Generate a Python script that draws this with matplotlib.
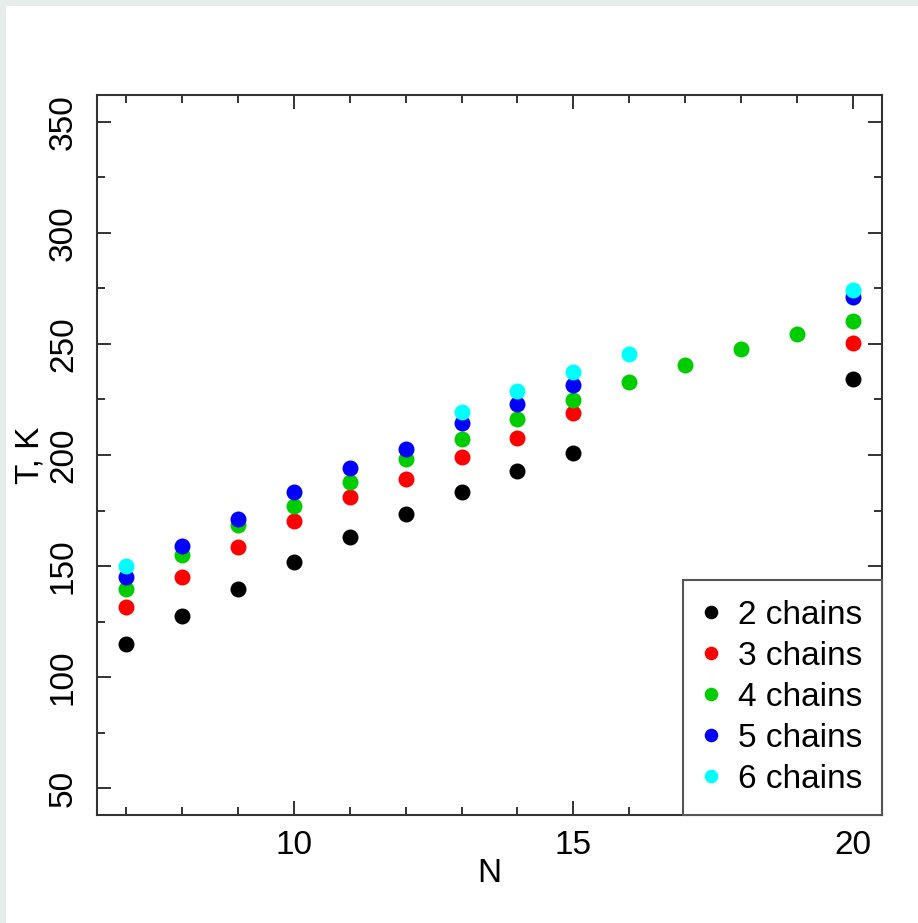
import numpy as np
import matplotlib.pyplot as plt
from matplotlib.patches import Rectangle
from matplotlib.ticker import MultipleLocator

plt.rcParams['font.family'] = ['Liberation Sans', 'DejaVu Sans']

# data (N vs T, K)
n_short = [7, 8, 9, 10, 11, 12, 13, 14, 15, 20]
t_2 = [115, 127.6, 139.9, 151.8, 163.1, 173.6, 183.4, 192.7, 201, 234.3]
t_3 = [131.5, 145.3, 158.5, 170.1, 181.1, 189, 199, 207.7, 219, 250.3]
n_4 = [7, 8, 9, 10, 11, 12, 13, 14, 15, 16, 17, 18, 19, 20]
t_4 = [139.8, 155.1, 168.6, 176.9, 187.9, 198, 207.3, 216.3, 224.7, 233, 240.5, 247.6, 254.3, 260.4]
t_5 = [145.3, 158.9, 171.4, 183.4, 194.1, 202.5, 214.2, 222.9, 231.7, 270.9]
n_6 = [7, 13, 14, 15, 16, 20]
t_6 = [150.2, 219.3, 228.6, 237.4, 245.3, 274.2]

labels = ['2 chains', '3 chains', '4 chains', '5 chains', '6 chains']
colors = ['black', '#ff0000', '#00cd00', '#0000ff', '#00ffff']

fs = 24

fig = plt.figure(figsize=(9.18, 9.23), dpi=100)
fig.patch.set_facecolor('#e6ecea')
fig.patches.append(Rectangle((6/918, 0), 1, (923-6)/923, transform=fig.transFigure,
                             facecolor='white', edgecolor='none', zorder=-1))

ax = fig.add_axes([97/918, (923-815)/923, 785/918, 720/923])
ax.set_zorder(1)

series = [(n_short, t_2), (n_short, t_3), (n_4, t_4), (n_short, t_5), (n_6, t_6)]
for (x, y), c, lab in zip(series, colors, labels):
    ax.plot(x, y, 'o', color=c, markersize=11.5, label=lab, markeredgewidth=0)

ax.set_xlim(6.48, 20.52)
ax.set_ylim(38, 362)
ax.xaxis.set_minor_locator(MultipleLocator(1))
ax.yaxis.set_minor_locator(MultipleLocator(25))
ax.set_xticks([10, 15, 20])
ax.set_yticks([50, 100, 150, 200, 250, 300, 350])

ax.tick_params(which='both', direction='in', top=True, right=True, width=1.4, color='#333333')
ax.tick_params(which='major', length=10)
ax.tick_params(which='minor', length=5.5)
ax.tick_params(axis='both', labelsize=fs)
ax.tick_params(axis='x', pad=11)
ax.tick_params(axis='y', pad=13)
for t in ax.get_yticklabels():
    t.set_rotation(90)
    t.set_va('center')
for s in ax.spines.values():
    s.set_linewidth(1.5)
    s.set_color('#333333')

ax.set_xlabel('N', fontsize=fs, labelpad=-2)
ax.set_ylabel('T, K', fontsize=fs, labelpad=2)

leg = ax.legend(loc='lower right', fontsize=fs, fancybox=False,
                framealpha=1, edgecolor='#555555', markerscale=0.85, handlelength=0.5,
                handletextpad=0.55, labelspacing=0.3, borderpad=0.6, borderaxespad=0)
leg.get_frame().set_linewidth(1.5)
leg.set_zorder(5)

fig.savefig('out.png', dpi=100)
